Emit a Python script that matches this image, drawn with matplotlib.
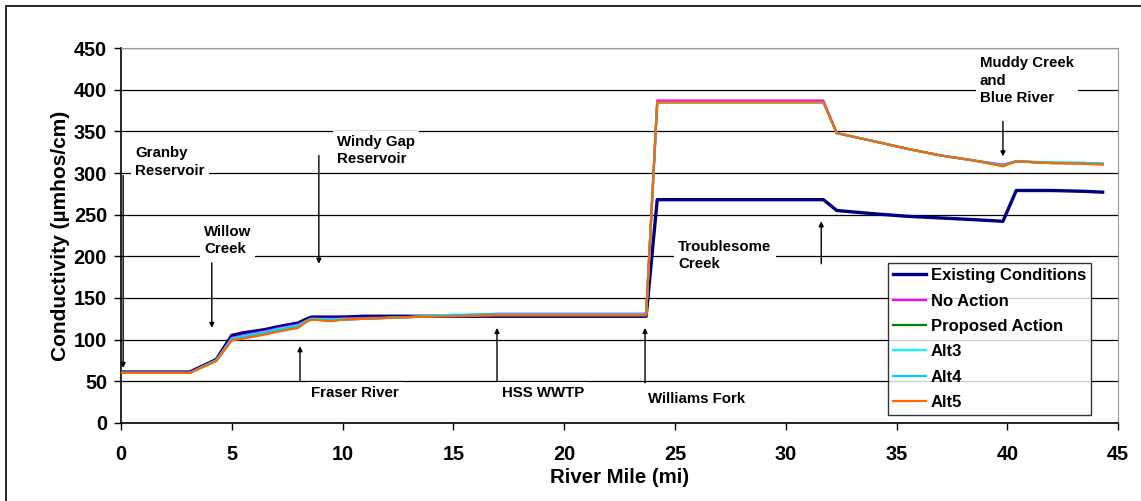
import matplotlib.pyplot as plt
from matplotlib.patches import Rectangle

plt.rcParams['font.family'] = ['Liberation Sans', 'DejaVu Sans']
plt.rcParams['font.weight'] = 'bold'

# River mile and conductivity (umhos/cm) for each scenario
river_mile = [0, 3.1, 4.3, 5.0, 5.5, 6.5, 7.0, 8.0, 8.4, 8.6, 9.5, 10.0, 11.0, 13.0, 15.0, 17.0,
              20.0, 23.7, 24.2, 28.0, 31.7, 32.3, 34.0, 35.5, 37.0, 38.5, 39.8, 40.4, 42.0, 43.5, 44.3]
existing = [61, 61, 76, 105, 108, 112, 115, 120, 125, 127, 127, 127, 128, 128, 128, 128,
            128, 128, 268, 268, 268, 255, 251, 248, 246, 244, 242, 279, 279, 278, 277]
no_action = [60, 60, 75, 102, 105, 110, 113, 118, 123, 125, 125, 125, 126, 127, 129, 131,
             131, 131, 387, 387, 387, 348, 338, 329, 321, 315, 310, 314, 312, 312, 311]
proposed = [60, 60, 75, 100, 103, 108, 111, 116, 122, 124, 123, 124, 125, 127, 129, 130,
            130, 130, 385, 385, 385, 348, 338, 329, 321, 315, 309, 314, 312, 312, 311]
alt3 = [60, 60, 75, 101, 104, 109, 112, 117, 123, 125, 124, 125, 125, 127, 130, 130,
        130, 130, 385, 385, 385, 348, 338, 329, 321, 315, 309, 314, 313, 312, 311]
alt4 = [60, 60, 75, 100, 103, 108, 111, 116, 122, 124, 123, 124, 125, 127, 129, 130,
        130, 130, 385, 385, 385, 348, 338, 329, 321, 315, 309, 314, 312, 312, 311]
alt5 = [60, 60, 74, 99, 101, 106, 109, 114, 122, 124, 122, 124, 125, 127, 128, 129,
        129, 129, 385, 385, 385, 348, 338, 329, 321, 315, 308, 314, 312, 311, 310]

series = [
    ('Existing Conditions', existing, '#000080', 2.4),
    ('No Action', no_action, '#FF00FF', 1.6),
    ('Proposed Action', proposed, '#008000', 1.6),
    ('Alt3', alt3, '#00FFFF', 1.6),
    ('Alt4', alt4, '#00CCFF', 1.6),
    ('Alt5', alt5, '#FF6600', 1.6),
]

# label text, text position (x, y), arrow start, arrow end
notes = [
    ('Granby\nReservoir', (0.63, 332), (0.1, 297), (0.1, 66)),
    ('Willow\nCreek', (3.75, 238), (4.1, 192), (4.1, 114)),
    ('Windy Gap\nReservoir', (9.75, 346), (8.93, 321), (8.93, 191)),
    ('Fraser River', (8.57, 44), (8.08, 50), (8.08, 92)),
    ('HSS WWTP', (17.19, 44), (16.97, 50), (16.97, 114)),
    ('Williams Fork', (23.78, 37), (23.65, 48), (23.65, 114)),
    ('Troublesome\nCreek', (25.14, 220), (31.6, 191), (31.6, 242)),
    ('Muddy Creek\nand\nBlue River', (38.76, 440), (39.8, 362), (39.8, 320)),
]

fig = plt.figure(figsize=(11.41, 5.01), dpi=100)
ax = fig.add_axes([0.106, 0.156, 0.874, 0.748])

for name, vals, color, lw in series:
    ax.plot(river_mile, vals, color=color, lw=lw, label=name, zorder=3)

for label, txt, start, end in notes:
    ax.annotate('', xy=end, xytext=start,
                arrowprops=dict(arrowstyle='-|>', color='black', lw=1.0,
                                mutation_scale=7, shrinkA=0, shrinkB=0), zorder=4)
    ax.text(txt[0], txt[1], label, fontsize=10.8, fontweight='bold', va='top', ha='left',
            linespacing=1.3, zorder=5,
            bbox=dict(facecolor='white', edgecolor='none', pad=3))

ax.set_xlim(0, 45)
ax.set_ylim(0, 450)
ax.set_xticks(range(0, 46, 5))
ax.set_yticks(range(0, 451, 50))
ax.yaxis.grid(True, color='black', lw=0.9, zorder=0)
ax.tick_params(labelsize=14.3, direction='out', length=5, width=1, pad=11)
ax.tick_params(axis='y', pad=5)
for lab in ax.get_xticklabels() + ax.get_yticklabels():
    lab.set_fontweight('bold')
ax.spines['top'].set_color('#999999')
ax.spines['right'].set_color('#999999')
ax.spines['left'].set_lw(1.2)
ax.spines['bottom'].set_lw(1.2)

ax.set_xlabel('River Mile (mi)', fontsize=14.7, fontweight='bold', labelpad=3)
ax.set_ylabel('Conductivity (\u00b5mhos/cm)', fontsize=15, fontweight='bold', labelpad=3)

leg = ax.legend(loc='lower right', bbox_to_anchor=(0.973, 0.021), fontsize=12.0,
                frameon=True, fancybox=False, edgecolor='black', handlelength=2.0,
                borderpad=0.3, labelspacing=0.62, handletextpad=0.3, borderaxespad=0)
leg.get_frame().set_linewidth(1.0)
for t in leg.get_texts():
    t.set_fontweight('bold')

fig.patches.append(Rectangle((6 / 1141, -0.1), 1.2, 1.1 - 6 / 501, transform=fig.transFigure,
                             fill=False, edgecolor='black', lw=1.2))

fig.savefig('out.png', dpi=100)
